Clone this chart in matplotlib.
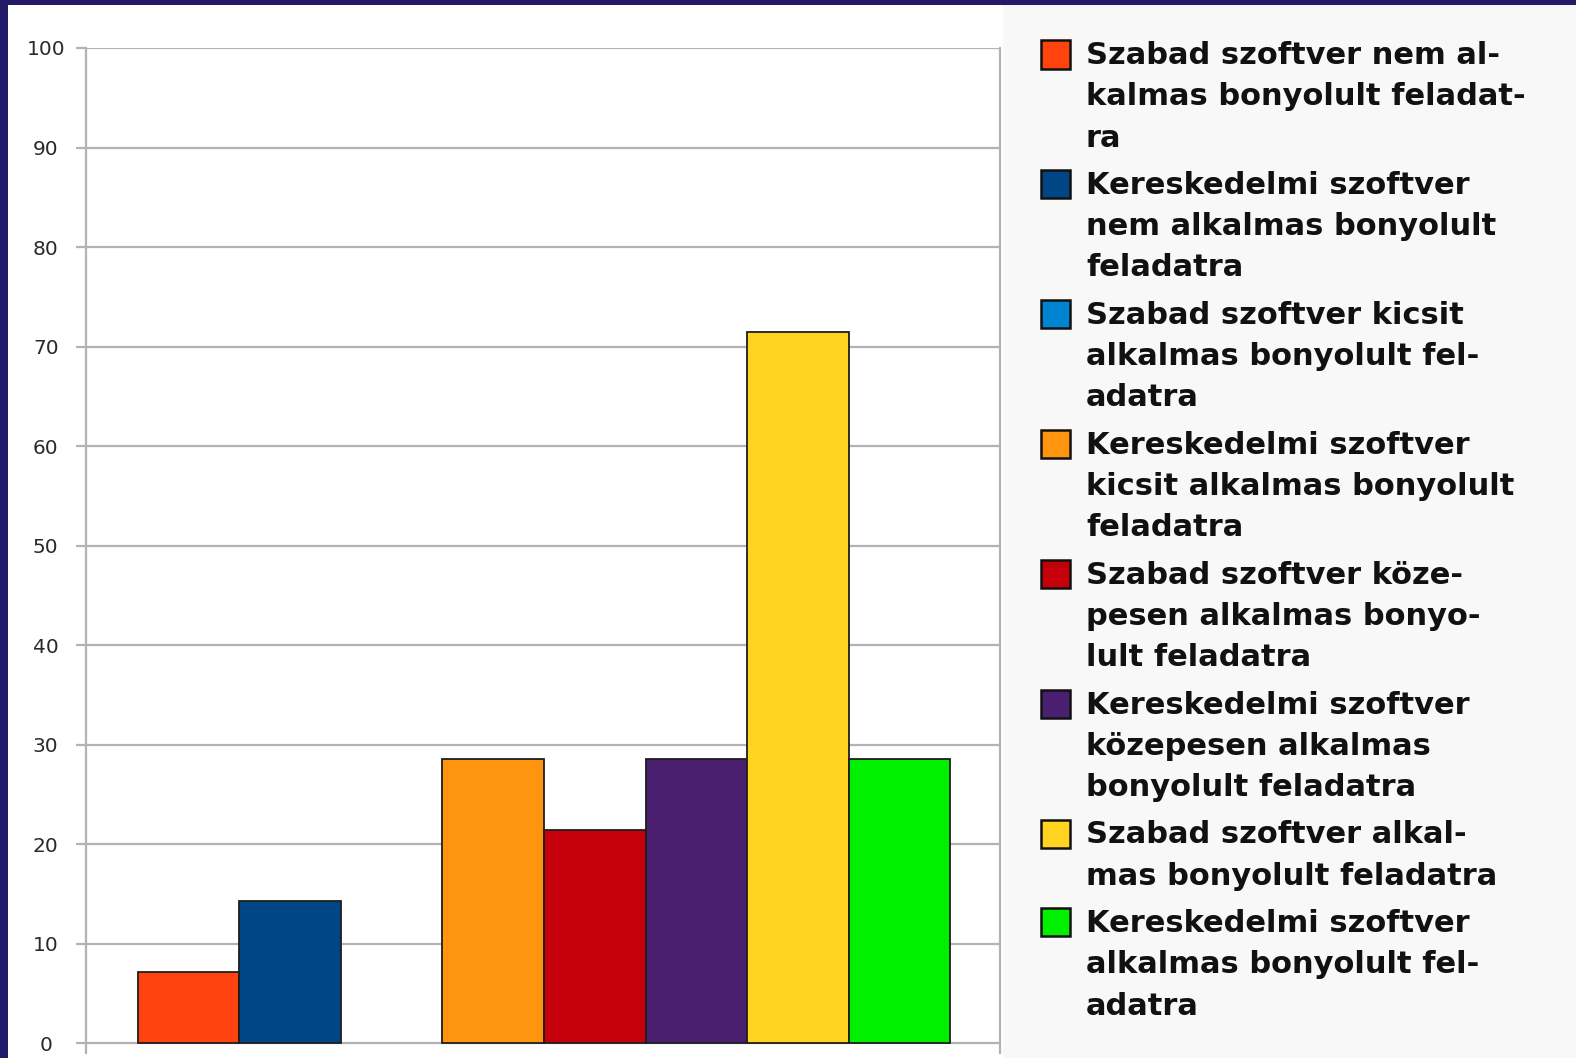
import matplotlib
matplotlib.use("Agg")
import matplotlib.pyplot as plt
from matplotlib.patches import Rectangle

# ---- data ----
series_labels = [
    ["Szabad szoftver nem al-", "kalmas bonyolult feladat-", "ra"],
    ["Kereskedelmi szoftver", "nem alkalmas bonyolult", "feladatra"],
    ["Szabad szoftver kicsit", "alkalmas bonyolult fel-", "adatra"],
    ["Kereskedelmi szoftver", "kicsit alkalmas bonyolult", "feladatra"],
    ["Szabad szoftver köze-", "pesen alkalmas bonyo-", "lult feladatra"],
    ["Kereskedelmi szoftver", "közepesen alkalmas", "bonyolult feladatra"],
    ["Szabad szoftver alkal-", "mas bonyolult feladatra"],
    ["Kereskedelmi szoftver", "alkalmas bonyolult fel-", "adatra"],
]
values = [7.14, 14.29, 0.0, 28.57, 21.43, 28.57, 71.43, 28.57]
colors = ["#ff420e", "#004586", "#0084d1", "#ff950e", "#c5000b",
          "#4b1f6f", "#ffd320", "#00f000"]
yticks = [0, 10, 20, 30, 40, 50, 60, 70, 80, 90, 100]

W, H = 1576, 1058
fig = plt.figure(figsize=(W / 100, H / 100), dpi=100)
fig.patch.set_facecolor("white")

def fx(px):
    return px / W

def fy(py):
    return 1 - py / H

# legend background
fig.patches.append(Rectangle((fx(1003), 0), 1 - fx(1003), 1, transform=fig.transFigure,
                             facecolor="#f8f8f8", edgecolor="none", zorder=0))
# navy frame (top + left)
fig.patches.append(Rectangle((0, fy(5)), 1, 1 - fy(5), transform=fig.transFigure,
                             facecolor="#231b69", edgecolor="none", zorder=5))
fig.patches.append(Rectangle((0, 0), fx(8), 1, transform=fig.transFigure,
                             facecolor="#231b69", edgecolor="none", zorder=5))

ax = fig.add_axes([fx(86), fy(1053), fx(1000) - fx(86), fy(48) - fy(1053)])
ax.set_facecolor("white")
xs = list(range(len(values)))
edges = ["#1e1e1e" if v > 0 else "none" for v in values]
ax.bar(xs, values, width=1.0, color=colors, edgecolor=edges, linewidth=1.3, zorder=3)
ax.set_xlim(-1.01, 7.99)
ax.set_ylim(-1.0, 100)
ax.set_yticks(yticks)
ax.set_yticklabels([str(t) for t in yticks], ha="center")
ax.set_xticks([])
ax.yaxis.grid(True, color="#b3b3b3", linewidth=1.6, zorder=0)
ax.set_axisbelow(True)
for s in ["top", "bottom"]:
    ax.spines[s].set_visible(False)
for s in ["left", "right"]:
    ax.spines[s].set_color("#b3b3b3")
    ax.spines[s].set_linewidth(1.6)
ax.tick_params(axis="y", direction="out", length=7.5, width=1.6, color="#b3b3b3",
               pad=21.5, labelsize=14.5, labelcolor="#2a2a2a")

# legend (manual, handle aligned with first line)
line_h = 41.3
y = 55.5
for lab, col in zip(series_labels, colors):
    fig.patches.append(Rectangle((fx(1041), fy(y + 13)), fx(29), 28 / H,
                                 transform=fig.transFigure, facecolor=col,
                                 edgecolor="#111111", linewidth=1.8, zorder=4))
    for k, line in enumerate(lab):
        fig.text(fx(1086), fy(y + k * line_h), line, fontsize=22, fontweight="bold",
                 family="DejaVu Sans", color="#111111", va="center", ha="left")
    y += len(lab) * line_h + 6

fig.savefig("out.png", dpi=100)
